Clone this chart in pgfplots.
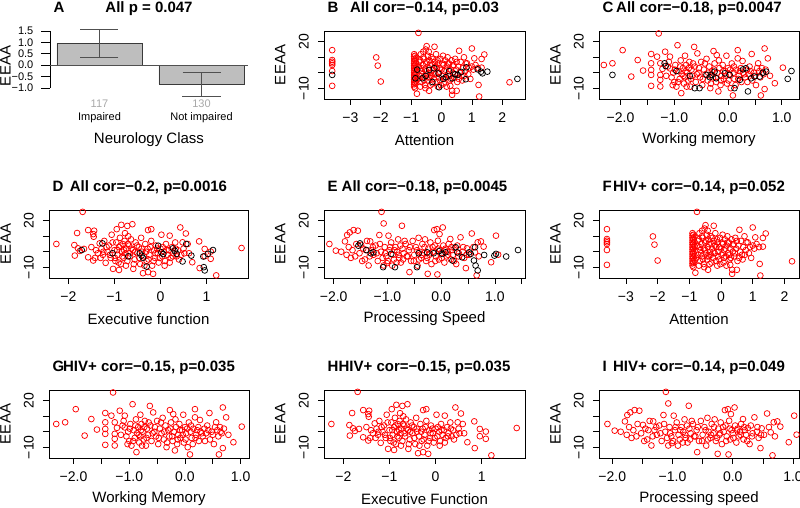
\documentclass[border=0pt]{standalone}
\usepackage{fontspec}
\setmainfont{Liberation Sans}
\usepackage{pgfplots}
\usepackage{pgfplotstable}
\pgfplotsset{compat=1.18}

\newcommand\tl{\fontsize{14}{16}\selectfont}
\newcommand\lb{\fontsize{15}{18}\selectfont}
\newcommand\ttl{\bfseries\fontsize{15}{18}\selectfont}
\definecolor{barfill}{HTML}{BEBEBE}
\definecolor{bardraw}{HTML}{3A3A3A}
\definecolor{errcol}{HTML}{505050}
\definecolor{numgray}{HTML}{A8A8A8}

% HIV+ (red) and HIV- (black) scores
\pgfplotstableread[row sep=\\]{
x y\\
-3.6 14.6\\ -3.6 8.2\\ -3.6 7.1\\ -3.6 6.1\\ -3.6 5.0\\ -3.6 1.1\\ -3.6 -8.5\\
-2.15 9.9\\ -2.1 4.6\\ -2.0 -5.7\\
-0.9 12\\ -0.9 10.5\\ -0.9 9\\ -0.9 7.5\\ -0.9 6\\ -0.9 4.5\\ -0.9 3\\ -0.9 1.5\\
-0.9 0\\ -0.9 -1.5\\ -0.9 -3\\ -0.9 -4.5\\ -0.9 -6\\ -0.9 -7.5\\ -0.9 -9\\
-0.87 11\\ -0.87 8\\ -0.87 5\\ -0.87 2\\ -0.87 -1\\ -0.87 -4\\ -0.87 -7\\ -0.87 -10\\
-0.84 9.5\\ -0.84 6.5\\ -0.84 3.5\\ -0.84 0.5\\ -0.84 -2.5\\ -0.84 -5.5\\ -0.81 -13.6\\
-0.76 25.8\\ -0.75 4\\ -0.72 -2\\ -0.7 8\\ -0.68 12\\ -0.66 -6\\ -0.65 1\\ -0.62 5\\
-0.6 13.6\\ -0.6 -3\\ -0.58 9\\ -0.55 -8\\ -0.54 2\\ -0.52 15\\ -0.5 6\\ -0.49 17.2\\
-0.48 -1\\ -0.45 11\\ -0.44 -5\\ -0.42 13.6\\ -0.42 3\\ -0.41 -11.7\\ -0.4 8\\ -0.38 -3\\
-0.35 0\\ -0.33 10\\ -0.3 5\\ -0.3 -7\\ -0.28 2\\ -0.25 -4\\ -0.23 16.8\\ -0.22 7\\
-0.2 -1\\ -0.18 12\\ -0.15 3\\ -0.12 -9\\ -0.1 6\\ -0.08 0\\ -0.05 -5\\ -0.03 9\\
0 2\\ 0.02 -2\\ 0.05 11\\ 0.06 5\\ 0.08 -7\\ 0.1 1\\ 0.12 8\\ 0.15 -3\\ 0.18 4\\
0.2 10\\ 0.22 -1\\ 0.25 6\\ 0.27 -5\\ 0.29 -8.5\\ 0.3 2\\ 0.33 8\\ 0.35 -11.7\\
0.35 -14.3\\ 0.37 0\\ 0.4 5\\ 0.42 -3\\ 0.45 9\\ 0.48 2\\ 0.5 -11.7\\ 0.52 -6\\
0.55 4\\ 0.58 14.2\\ 0.6 0\\ 0.63 7\\ 0.66 -2\\ 0.7 3\\ 0.74 10\\ 0.78 1\\ 0.8 6\\
0.84 6.1\\ 0.88 -1\\ 0.92 3\\ 1.0 15.7\\ 1.0 4\\ 1.05 2\\ 1.08 9.3\\ 1.12 5\\ 1.2 3\\
1.22 -7.9\\ 1.24 -15.4\\ 1.32 8.9\\ 1.32 3.3\\ 1.41 11.8\\ 2.24 -6.2\\
-0.78 -4\\ -0.74 7\\ -0.7 -9\\ -0.67 3\\ -0.63 -1\\ -0.6 10\\ -0.57 -5\\ -0.53 -10\\
-0.5 1\\ -0.47 7\\ -0.43 -3\\ -0.39 5\\ -0.36 -8\\ -0.32 -2\\ -0.27 9\\ -0.24 0\\
-0.19 4\\ -0.16 -6\\ -0.13 8\\ -0.09 -3\\ -0.06 3\\ -0.02 -8\\ 0.03 6\\ 0.09 -4\\
0.13 2\\ 0.17 -9\\ 0.21 6\\ 0.26 -2\\ 0.31 -4\\ 0.38 4\\ 0.44 -1\\ 0.5 7\\ 0.57 -4\\
0.68 -5\\ 0.75 -2\\ 0.95 -4\\
}\attR
\pgfplotstableread[row sep=\\]{
x y\\
-3.6 -1.4\\ -0.86 -3.6\\ -0.8 2\\ -0.63 -3.6\\ -0.52 -2.1\\ -0.41 1.8\\ -0.3 -6\\
-0.24 2.9\\ -0.1 -0.5\\ -0.08 -9.4\\ 0.05 -4\\ 0.14 -2.9\\ 0.25 1\\ 0.36 -3.6\\
0.45 -1\\ 0.53 -1.4\\ 0.65 0.5\\ 0.8 -4.2\\ 0.82 3.5\\ 1.19 2.2\\ 1.3 0.7\\
1.35 -0.4\\ 1.51 0.7\\ 2.5 -4\\
}\attB
\pgfplotstableread[row sep=\\]{
x y\\
-2.31 5.0\\ -2.15 6.1\\ -1.96 14.6\\ -1.80 -2.5\\ -1.68 8.2\\ -1.58 1.4\\ -1.43 12.1\\
-1.43 6.1\\ -1.43 1.8\\ -1.43 -1.4\\ -1.43 -8.5\\ -1.32 10.4\\ -1.29 25.4\\ -1.26 6.1\\
-1.26 -1.4\\ -1.26 -4.6\\ -1.26 -8.9\\ -1.22 2.5\\ -1.17 13.6\\ -1.12 4\\ -1.08 10.4\\
-1.08 2.8\\ -1.05 -3\\ -1.02 0\\ -1.0 -6\\ -0.98 5\\ -0.96 -9\\ -0.94 17.8\\ -0.92 1\\
-0.90 -4\\ -0.88 8\\ -0.87 -13.2\\ -0.86 -1\\ -0.84 3\\ -0.82 -7\\ -0.80 11\\ -0.80 -3\\
-0.78 5\\ -0.76 0\\ -0.74 -5\\ -0.72 7\\ -0.70 -9\\ -0.68 2\\ -0.66 -2\\ -0.63 16.7\\
-0.62 4\\ -0.60 -6\\ -0.57 12.5\\ -0.55 0\\ -0.52 -3\\ -0.50 7\\ -0.48 -8\\ -0.45 2\\
-0.42 -1\\ -0.40 9\\ -0.38 -5\\ -0.35 4\\ -0.33 -10\\ -0.30 1\\ -0.28 -3\\ -0.27 14.0\\
-0.25 6\\ -0.22 -6\\ -0.21 11.4\\ -0.20 0\\ -0.18 -12.1\\ -0.16 3\\ -0.14 -8\\ -0.12 -2\\
-0.10 5\\ -0.08 -4\\ -0.05 1\\ -0.03 11.0\\ -0.02 -7\\ 0.0 3\\ 0.02 -1\\ 0.05 -10\\
0.07 6\\ 0.09 -14.7\\ 0.10 0\\ 0.12 -4\\ 0.15 2\\ 0.18 14.6\\ 0.18 9.3\\ 0.20 -2\\
0.22 1\\ 0.25 -6\\ 0.27 7.6\\ 0.28 0\\ 0.32 -3\\ 0.35 2\\ 0.38 -1\\ 0.40 4\\ 0.44 12.1\\
0.45 -5\\ 0.48 0\\ 0.52 -8\\ 0.56 6.1\\ 0.58 1\\ 0.60 -3\\ 0.61 -14.7\\ 0.63 3\\
0.66 -1\\ 0.68 15.7\\ 0.68 -10.6\\ 0.70 2\\ 0.74 9.3\\ 0.78 -2\\ 0.87 -6.8\\ 1.02 3.3\\
-1.15 -2\\ -1.1 7\\ -1.03 -8\\ -0.99 2\\ -0.93 -6\\ -0.89 4\\ -0.83 -2\\ -0.79 1\\
-0.77 -9\\ -0.73 3\\ -0.69 -4\\ -0.65 6\\ -0.58 -1\\ -0.54 3\\ -0.47 -4\\ -0.43 6\\
-0.37 0\\ -0.32 -7\\ -0.26 2\\ -0.23 -3\\ -0.17 8\\ -0.13 -5\\ -0.09 1\\ -0.04 -2\\
0.01 -5\\ 0.04 2\\ 0.11 4\\ 0.14 -8\\ 0.19 -4\\ 0.24 3\\ 0.3 -1\\ 0.36 -6\\ 0.42 1\\
0.5 -2\\ 0.54 3\\ 0.64 0\\
}\wmR
\pgfplotstableread[row sep=\\]{
x y\\
-2.15 -1.4\\ -1.18 6.1\\ -1.16 4.3\\ -0.96 1.1\\ -0.71 -2.1\\ -0.62 -10\\ -0.53 -10\\
-0.40 -1.4\\ -0.34 -2.9\\ -0.31 -1.4\\ -0.25 0.7\\ -0.22 -3.6\\ -0.06 -0.4\\ 0.03 -1.4\\
0.12 -10\\ 0.22 -4.6\\ 0.28 2.2\\ 0.33 2.9\\ 0.37 -12.1\\ 0.43 -3.6\\ 0.49 -2.5\\
0.59 -2.5\\ 0.65 0\\ 0.71 0.7\\ 1.11 -4\\ 1.18 1.1\\
}\wmB
\pgfplotstableread[row sep=\\]{
x y\\
-2.26 5.0\\ -1.87 4.3\\ -1.86 -2.5\\ -1.81 12.1\\ -1.79 2.2\\ -1.75 0.5\\ -1.69 25.8\\
-1.66 1.8\\ -1.57 14\\ -1.57 -3.6\\ -1.50 3\\ -1.46 11.4\\ -1.46 -5.7\\ -1.45 9.7\\
-1.44 13.6\\ -1.42 -4\\ -1.40 1\\ -1.36 -1\\ -1.32 5.4\\ -1.28 2\\ -1.25 -2\\ -1.22 7\\
-1.19 -7.2\\ -1.15 0\\ -1.12 4\\ -1.08 -4\\ -1.06 11\\ -1.03 -11.1\\ -1.0 1\\ -0.98 -6\\
-0.96 6\\ -0.95 14.6\\ -0.93 -2\\ -0.90 -11.8\\ -0.90 3\\ -0.88 9\\ -0.86 -8\\
-0.85 17.4\\ -0.84 0\\ -0.82 5\\ -0.80 -4\\ -0.78 7\\ -0.76 -1\\ -0.74 2\\ -0.72 16.7\\
-0.72 -6\\ -0.70 10\\ -0.68 4\\ -0.66 -3\\ -0.64 8\\ -0.61 17.8\\ -0.60 1\\ -0.59 -11.1\\
-0.56 -5\\ -0.54 6\\ -0.50 -1\\ -0.47 3\\ -0.44 -8\\ -0.42 9\\ -0.40 0\\ -0.38 -13.9\\
-0.36 -3\\ -0.33 5\\ -0.30 -6\\ -0.28 2\\ -0.27 14\\ -0.27 -13.2\\ -0.24 -2\\ -0.20 14.6\\
-0.20 7\\ -0.18 -9\\ -0.16 -14.3\\ -0.14 1\\ -0.12 -4\\ -0.10 4\\ -0.06 -1\\ -0.04 -7\\
0.0 2\\ 0.02 11\\ 0.04 -3\\ 0.08 0\\ 0.10 -6\\ 0.12 5\\ 0.15 -2\\ 0.18 1\\ 0.20 10.4\\
0.22 -4\\ 0.25 3\\ 0.28 -1\\ 0.32 6\\ 0.35 -3\\ 0.38 1\\ 0.43 15.7\\ 0.45 -2\\ 0.48 6.1\\
0.50 2\\ 0.55 11.8\\ 0.59 5\\ 0.62 -1\\ 0.69 -6.8\\ 0.84 6.7\\ 0.85 -10.6\\ 0.96 1.8\\
0.96 -2.9\\ 1.09 0.1\\ 1.09 -4.6\\ 1.21 -15.3\\ 1.76 2.4\\
-1.3 -4\\ -1.24 0\\ -1.17 3\\ -1.1 -2\\ -1.04 6\\ -0.99 -4\\ -0.94 1\\ -0.91 -7\\
-0.87 4\\ -0.83 -3\\ -0.79 1\\ -0.77 12\\ -0.75 -9\\ -0.71 5\\ -0.67 -1\\ -0.63 2\\
-0.58 -8\\ -0.55 0\\ -0.51 4\\ -0.46 -4\\ -0.41 2\\ -0.35 -9\\ -0.31 0\\ -0.26 -5\\
-0.22 3\\ -0.15 -6\\ -0.11 -1\\ -0.07 2\\ -0.02 -4\\ 0.05 3\\ 0.09 -9\\ 0.13 1\\
0.2 -7\\ 0.27 -3\\ 0.33 2\\ 0.4 -5\\ 0.52 -1\\
}\efR
\pgfplotstableread[row sep=\\]{
x y\\
-1.71 1.1\\ -1.26 5.4\\ -1.04 -1\\ -0.70 -3\\ -0.45 -1\\ -0.41 -2.5\\ -0.38 -4\\
-0.30 -9.6\\ -0.05 3.9\\ 0.02 -0.4\\ 0.06 -1.5\\ 0.27 2.2\\ 0.31 0.7\\ 0.35 -1.4\\
0.48 -6.3\\ 0.56 5\\ 0.67 -2.5\\ 0.93 -3.1\\ 0.94 -10\\ 0.96 -12.1\\ 1.03 -1.4\\ 1.14 1.1\\
}\efB
\pgfplotstableread[row sep=\\]{
x y\\
-2.08 5.0\\ -1.96 0.7\\ -1.86 0\\ -1.79 6.7\\ -1.76 -2\\ -1.75 10.8\\ -1.72 3\\
-1.70 12.5\\ -1.68 -4\\ -1.65 1\\ -1.63 14\\ -1.60 -3\\ -1.58 5\\ -1.55 13.6\\ -1.52 -1\\
-1.49 4.4\\ -1.45 2\\ -1.42 -5\\ -1.38 7\\ -1.35 -8.9\\ -1.32 6.7\\ -1.30 1\\ -1.26 -2\\
-1.22 4\\ -1.18 -6\\ -1.15 10.8\\ -1.12 0\\ -1.11 25.8\\ -1.07 18.3\\ -1.07 -8.9\\
-1.05 3\\ -1.02 -3\\ -1.01 -7.4\\ -0.98 10.4\\ -0.96 1\\ -0.93 6\\ -0.90 -2\\ -0.88 -5\\
-0.85 3\\ -0.82 0\\ -0.80 8\\ -0.78 -4\\ -0.75 -7\\ -0.73 16.8\\ -0.72 2\\ -0.70 -1\\
-0.66 5\\ -0.64 -3\\ -0.60 1\\ -0.59 -13.2\\ -0.56 -6\\ -0.53 7\\ -0.50 -2\\ -0.47 3\\
-0.44 -9\\ -0.42 9\\ -0.40 0\\ -0.37 -4\\ -0.35 5\\ -0.32 -1\\ -0.30 8\\ -0.28 -6\\
-0.25 -14.3\\ -0.24 2\\ -0.22 -2\\ -0.20 6\\ -0.18 -8\\ -0.15 0\\ -0.13 14\\ -0.12 4\\
-0.10 -3\\ -0.08 14.6\\ -0.07 -14.7\\ -0.06 7.1\\ -0.04 -5\\ -0.03 11.4\\ -0.02 1\\
0.0 -1\\ 0.03 15.7\\ 0.04 4\\ 0.06 -7\\ 0.08 2\\ 0.10 -3\\ 0.12 0\\ 0.14 5\\ 0.17 8.2\\
0.18 -5\\ 0.20 1\\ 0.22 -2\\ 0.25 2.4\\ 0.28 -8\\ 0.30 4\\ 0.33 -1\\ 0.36 9.3\\ 0.40 0\\
0.43 -4\\ 0.46 -10.6\\ 0.48 2.2\\ 0.52 -2\\ 0.57 11.8\\ 0.60 3\\ 0.63 -0.4\\ 0.66 -15.3\\
0.68 6.1\\ 0.70 -3\\ 0.74 6.7\\ 0.79 3.3\\ 0.93 -6.8\\ 1.02 10.4\\ 1.06 -1.9\\
-1.47 -6\\ -1.4 1\\ -1.33 -3\\ -1.27 3\\ -1.2 -1\\ -1.14 5\\ -1.09 -4\\ -1.04 -1\\
-0.99 -6\\ -0.95 3\\ -0.91 -9\\ -0.87 1\\ -0.83 -7\\ -0.79 -2\\ -0.76 4\\ -0.71 -5\\
-0.68 7\\ -0.62 -3\\ -0.58 3\\ -0.51 -6\\ -0.45 1\\ -0.41 -5\\ -0.36 -2\\ -0.31 3\\
-0.26 -4\\ -0.21 -1\\ -0.16 3\\ -0.11 -6\\ -0.05 2\\ 0.01 -4\\ 0.07 1\\ 0.13 -2\\
0.19 3\\ 0.24 -6\\ 0.32 -3\\ 0.41 3\\ 0.47 -2\\
}\psR
\pgfplotstableread[row sep=\\]{
x y\\
-1.54 3.9\\ -1.51 5.4\\ -1.39 1.1\\ -1.31 -1\\ -1.26 -0.4\\ -1.08 -10\\ -0.93 -1.4\\
-0.86 -10\\ -0.45 -10\\ -0.42 -1\\ -0.26 -0.4\\ -0.14 -1\\ -0.04 0.3\\ 0.02 -1.4\\
0.08 -0.4\\ 0.21 -5.7\\ 0.27 2.9\\ 0.30 -0.4\\ 0.39 -3.6\\ 0.52 -0.4\\ 0.55 -1.4\\
0.61 -5.7\\ 0.63 2.9\\ 0.64 -8.9\\ 0.68 -12.1\\ 0.80 -2.1\\ 0.99 -2.5\\ 1.02 -1.4\\
1.21 -3.1\\ 1.43 1.1\\
}\psB

\tikzset{letter/.style={anchor=base west, font=\ttl}}
\pgfplotsset{
  panel/.style={
    scale only axis, anchor=south west, height=68pt, clip mode=individual,
    ymin=-17, ymax=27,
    ytick={-10,0,10,20}, yticklabels={−10,,,20},
    tick align=outside, tick pos=left, major tick length=6pt,
    tick style={black, line width=0.7pt},
    axis line style={line width=0.7pt},
    ticklabel style={font=\tl},
    yticklabel style={rotate=90, anchor=south, inner sep=0pt},
    xticklabel style={anchor=north, inner sep=0pt},
    xticklabel shift=8pt, yticklabel shift=9pt,
    label style={font=\lb},
    xlabel style={at={(axis description cs:0.5,-0.60)}, anchor=center},
    ylabel style={at={(axis description cs:-0.218,0.5)}, anchor=center},
    ylabel={EEAA},
    every axis title/.style={at={(axis description cs:0.5,1.265)}, anchor=base, font=\ttl},
  },
  attx/.style={xtick={-3,-2,-1,0,1,2}, xticklabels={−3,−2,−1,0,1,2}},
  halfx/.style={xtick={-2,-1.5,-1,-0.5,0,0.5,1}, xticklabels={−2.0,,−1.0,,0.0,,1.0}},
  efx/.style={xtick={-2,-1,0,1}, xticklabels={−2,−1,0,1}},
  redpts/.style={only marks, mark=o, mark size=2.9pt, color=red, line width=0.75pt},
  blackpts/.style={only marks, mark=o, mark size=2.9pt, color=black, line width=0.75pt},
}

\begin{document}
\begin{tikzpicture}
\path[use as bounding box] (0,0) rectangle (800pt,508pt);

% A
\begin{axis}[scale only axis, anchor=south west, at={(50pt,420pt)},
  width=198pt, height=57pt, clip=false,
  xmin=0.118, xmax=2.447, ymin=-1, ymax=1.5,
  axis y line*=left, axis x line*=bottom,
  x axis line style={draw=none}, y axis line style={line width=0.7pt},
  tick align=outside, major tick length=8.5pt,
  ytick={-1,-0.5,0,0.5,1,1.5}, yticklabels={−1.0,−0.5,0.0,0.5,1.0,1.5},
  y tick style={black, line width=0.7pt},
  yticklabel style={anchor=east, inner sep=0pt, font=\fontsize{11}{13}\selectfont},
  yticklabel shift=8pt,
  xtick={0.7,1.9}, x tick style={draw=none},
  xticklabels={{\textcolor{numgray}{117}\\Impaired},{\textcolor{numgray}{130}\\Not impaired}},
  xticklabel style={align=center, anchor=north, inner sep=0pt, font=\fontsize{11}{13}\selectfont},
  xticklabel shift=3pt,
  xlabel={Neurology Class}, ylabel={EEAA},
  label style={font=\lb},
  xlabel style={at={(axis description cs:0.5,-0.912)}, anchor=center},
  ylabel style={at={(axis description cs:-0.225,0.386)}, anchor=center},
  title={All p = 0.047},
  every axis title/.style={at={(axis description cs:0.5,1.316)}, anchor=base, font=\ttl},
]
\addplot[ybar, bar width=1, bar shift=0pt, fill=barfill, draw=bardraw, line width=0.7pt,
  error bars/.cd, y dir=both, y explicit, error mark=|,
  error bar style={errcol, line width=0.8pt},
  error mark options={errcol, line width=0.8pt, mark size=19pt}]
  coordinates {(0.7,0.96) +- (0,0.62) (1.9,-0.83) +- (0,0.52)};
\draw[errcol, line width=0.8pt] (axis cs:0.118,0) -- (axis cs:2.447,0);
\node[letter] at (axis description cs:0,1.316) {A};
\end{axis}

% B
\begin{axis}[panel, at={(324pt,409pt)}, width=201pt, xmin=-3.87, xmax=2.75, attx,
  xlabel={Attention}, title={All cor=−0.14, p=0.03}]
\addplot[redpts] table {\attR};
\addplot[blackpts] table {\attB};
\node[letter] at (axis description cs:0,1.265) {B};
\end{axis}

% C
\begin{axis}[panel, at={(599pt,409pt)}, width=200pt, xmin=-2.40, xmax=1.32, halfx,
  xlabel={Working memory}, title={All cor=−0.18, p=0.0047}]
\addplot[redpts] table {\wmR};
\addplot[blackpts] table {\wmB};
\node[letter] at (axis description cs:0,1.265) {C};
\end{axis}

% D
\begin{axis}[panel, at={(49pt,230pt)}, width=199pt, xmin=-2.42, xmax=1.90, efx,
  xlabel={Executive function}, title={All cor=−0.2, p=0.0016}]
\addplot[redpts] table {\efR};
\addplot[blackpts] table {\efB};
\node[letter] at (axis description cs:0,1.265) {D};
\end{axis}

% E
\begin{axis}[panel, at={(324pt,230pt)}, width=201pt, xmin=-2.18, xmax=1.56,
  xtick={-2,-1.5,-1,-0.5,0,0.5,1,1.5}, xticklabels={−2.0,,−1.0,,0.0,,1.0,},
  xlabel={Processing Speed}, title={All cor=−0.18, p=0.0045}]
\addplot[redpts] table {\psR};
\addplot[blackpts] table {\psB};
\node[letter] at (axis description cs:0,1.265) {E};
\end{axis}

% F
\begin{axis}[panel, at={(599pt,230pt)}, width=200pt, xmin=-3.85, xmax=2.46, attx,
  xlabel={Attention}, title={HIV+ cor=−0.14, p=0.052}]
\addplot[redpts] table {\attR};
\node[letter] at (axis description cs:0,1.265) {F};
\end{axis}

% G
\begin{axis}[panel, at={(49pt,50pt)}, width=200pt, xmin=-2.44, xmax=1.15, halfx,
  xlabel={Working Memory}, title={HIV+ cor=−0.15, p=0.035}]
\addplot[redpts] table {\wmR};
\node[letter] at (axis description cs:0,1.265) {G};
\end{axis}

% H
\begin{axis}[panel, at={(324pt,50pt)}, width=201pt, xmin=-2.42, xmax=1.94, efx,
  xlabel={Executive Function}, title={HIV+ cor=−0.15, p=0.035}]
\addplot[redpts] table {\efR};
\node[letter] at (axis description cs:0,1.265) {H};
\end{axis}

% I
\begin{axis}[panel, at={(599pt,50pt)}, width=200pt, xmin=-2.22, xmax=1.10, halfx,
  xlabel={Processing speed}, title={HIV+ cor=−0.14, p=0.049}]
\addplot[redpts] table {\psR};
\node[letter] at (axis description cs:0,1.265) {I};
\end{axis}
\end{tikzpicture}
\end{document}
